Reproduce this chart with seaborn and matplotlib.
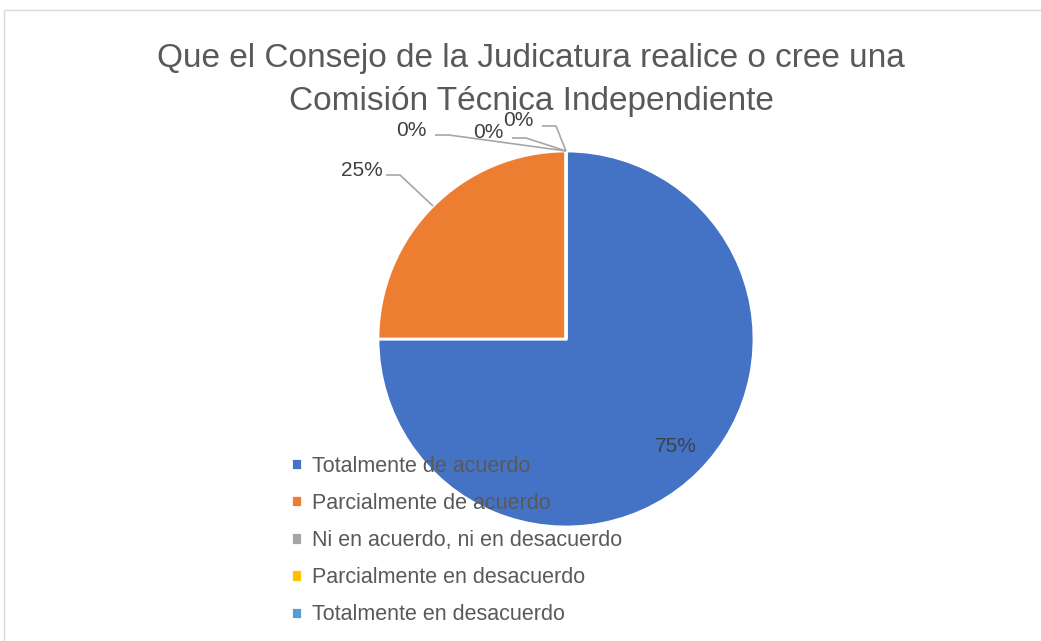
"""Pie chart: Comisión Técnica Independiente survey."""

import matplotlib.pyplot as plt
import numpy as np
import seaborn as sns
from matplotlib.patches import Rectangle

sns.set_theme(style="white")
plt.rcParams["font.family"] = ["Liberation Sans", "DejaVu Sans"]

TITLE = "Que el Consejo de la Judicatura realice o cree una\nComisión Técnica Independiente"
CATEGORIES = [
    "Totalmente de acuerdo",
    "Parcialmente de acuerdo",
    "Ni en acuerdo, ni en desacuerdo",
    "Parcialmente en desacuerdo",
    "Totalmente en desacuerdo",
]
VALUES = [75, 25, 0, 0, 0]
COLORS = ["#4472C4", "#ED7D31", "#A5A5A5", "#FFC000", "#5B9BD5"]

W, H = 1041, 641
CX, CY, R = 566, 339, 188

fig = plt.figure(figsize=(W / 100, H / 100), dpi=100)
fig.patches.append(Rectangle((4 / W, -0.05), 1.1, 1.05 - 10 / H, transform=fig.transFigure,
                             fill=False, edgecolor="#D9D9D9", linewidth=1))

ax = fig.add_axes([(CX - R) / W, (H - CY - R) / H, 2 * R / W, 2 * R / H])
palette = sns.color_palette(COLORS)
wedges, _ = ax.pie(VALUES, colors=palette, startangle=90, counterclock=False,
                   wedgeprops={"edgecolor": "white", "linewidth": 2})
ax.set_xlim(-1, 1)
ax.set_ylim(-1, 1)
ax.set_aspect("equal")
ax.axis("off")

total = sum(VALUES)
# label centres in pixels; first one sits inside its slice
label_px = [(676, 447), (362, 170), (411, 130), (488, 133), (518, 121)]


def to_data(px, py):
    return (px - CX) / R, (CY - py) / R


for i, (w, v) in enumerate(zip(wedges, VALUES)):
    txt = f"{v / total:.0%}"
    tx, ty = to_data(*label_px[i])
    ax.text(tx, ty, txt, ha="center", va="center", fontsize=15, color="#404040", clip_on=False)
    if i == 0:
        continue
    ang = np.deg2rad((w.theta1 + w.theta2) / 2)
    end = (np.cos(ang), np.sin(ang)) if v > 0 else (0.0, 1.0)
    x0 = tx + 24 / R
    y0 = ty - 5 / R
    x1 = x0 + 14 / R
    ax.plot([x0, x1, end[0]], [y0, y0, end[1]], color="#A6A6A6", linewidth=1.2,
            clip_on=False, solid_capstyle="butt")

fig.text(531 / W, 1 - 80 / H, TITLE, ha="center", va="center", fontsize=24,
         color="#595959", linespacing=1.5)

fig.legend(wedges, CATEGORIES, loc="upper left", bbox_to_anchor=(280 / W, 1 - 445 / H),
           frameon=False, fontsize=15.5, labelcolor="#595959", handlelength=0.5,
           handleheight=0.5, handletextpad=0.5, labelspacing=0.75, borderpad=0)

fig.savefig("out.png", dpi=100)
